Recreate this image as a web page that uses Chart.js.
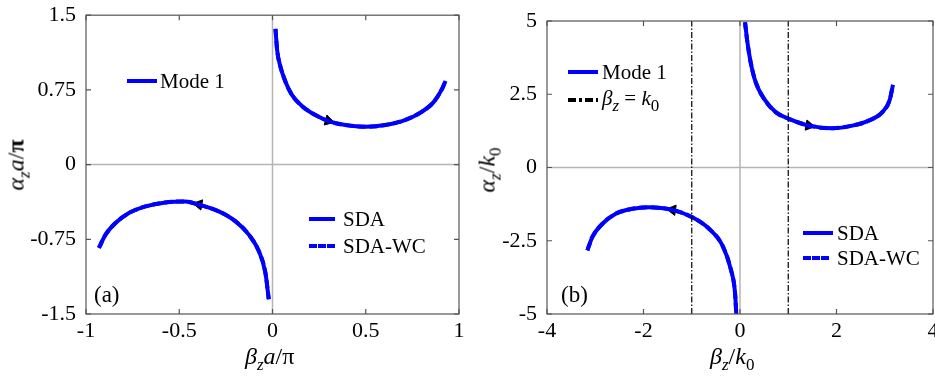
<!DOCTYPE html>
<html>
<head>
<meta charset="utf-8">
<script src="https://cdn.jsdelivr.net/npm/chart.js@4.4.1/dist/chart.umd.min.js"></script>
<style>
  html, body { margin: 0; padding: 0; background: #fff; overflow: hidden; }
  #wrap { position: relative; width: 935px; height: 379px; overflow: hidden; font-family: "Liberation Serif", "Times New Roman", serif; color: #000; }
  canvas { position: absolute; top: 0; }
  .lbl { position: absolute; font-size: 21px; white-space: nowrap; line-height: 1; }
  .ttl { position: absolute; font-size: 24px; white-space: nowrap; line-height: 1; }
  .ttl i { font-style: italic; }
  .ttl sub { font-size: 17px; font-style: italic; vertical-align: -6px; line-height: 0; }
  .lbl sub { font-size: 17px; font-style: italic; vertical-align: -6px; line-height: 0; }
  .key { position: absolute; height: 0; }
  .dashdot { position: absolute; height: 4px; background: repeating-linear-gradient(90deg, #000 0 8px, transparent 8px 11px, #000 11px 14px, transparent 14px 17px); }
</style>
</head>
<body>
<div id="wrap">
  <canvas id="chartA" width="470" height="379" style="left:0"></canvas>
  <canvas id="chartB" width="480" height="379" style="left:470px"></canvas>

  <!-- panel (a) legend + labels -->
  <div class="key" style="left:127px;top:79px;width:30px;border-top:4px solid #0000ff"></div>
  <div class="lbl" style="left:160px;top:71px">Mode 1</div>
  <div class="key" style="left:309px;top:217px;width:26px;border-top:4px solid #0000ff"></div>
  <div class="lbl" style="left:343px;top:209px">SDA</div>
  <div class="key" style="left:309px;top:244px;width:26px;border-top:4px dashed #0000ff"></div>
  <div class="lbl" style="left:343px;top:236px">SDA-WC</div>
  <div class="lbl" style="left:94px;top:283px;font-size:23px">(a)</div>
  <div class="ttl" style="left:245px;top:344px"><i>β</i><sub>z</sub><i>a</i>/π</div>
  <div class="ttl" style="left:-10px;top:153px;transform:rotate(-90deg)"><i>α</i><sub>z</sub><i>a</i>/<b>π</b></div>

  <!-- panel (b) legend + labels -->
  <div class="key" style="left:568px;top:70px;width:30px;border-top:4px solid #0000ff"></div>
  <div class="lbl" style="left:602px;top:62px">Mode 1</div>
  <div class="dashdot" style="left:568px;top:98px;width:30px"></div>
  <div class="lbl" style="left:602px;top:88px"><i>β</i><sub>z</sub> = <i>k</i><sub style="font-style:normal">0</sub></div>
  <div class="key" style="left:803px;top:231px;width:30px;border-top:4px solid #0000ff"></div>
  <div class="lbl" style="left:837px;top:223px">SDA</div>
  <div class="key" style="left:803px;top:256px;width:26px;border-top:4px dashed #0000ff"></div>
  <div class="lbl" style="left:837px;top:248px">SDA-WC</div>
  <div class="lbl" style="left:561px;top:283px;font-size:23px">(b)</div>
  <div class="ttl" style="left:710px;top:344px"><i>β</i><sub>z</sub>/<i>k</i><sub style="font-style:normal">0</sub></div>
  <div class="ttl" style="left:464px;top:158px;transform:rotate(-90deg)"><i>α</i><sub>z</sub>/<i>k</i><sub style="font-style:normal">0</sub></div>
</div>

<script>
// panel (a): beta_z a/pi vs alpha_z a/pi
const upperBetaA  = [0.016, 0.025, 0.043, 0.07, 0.105, 0.159, 0.23, 0.30, 0.39, 0.50, 0.605, 0.71, 0.80, 0.865, 0.91, 0.928];
const upperAlphaA = [1.363, 1.147, 0.98, 0.83, 0.697, 0.587, 0.497, 0.437, 0.397, 0.38, 0.397, 0.447, 0.53, 0.63, 0.763, 0.84];
const lowerBetaA  = [-0.931, -0.895, -0.842, -0.77, -0.681, -0.574, -0.466, -0.395, -0.288, -0.198, -0.127, -0.073, -0.038, -0.02];
const lowerAlphaA = [-0.837, -0.703, -0.587, -0.487, -0.42, -0.38, -0.37, -0.403, -0.47, -0.57, -0.703, -0.87, -1.087, -1.353];
const arrowsA = [
  { x: 0.30, y: 0.44, rot: 105 },
  { x: -0.395, y: -0.40, rot: -80 },
];
const xTicksA = [-1, -0.5, 0, 0.5, 1];
const yTicksA = [-1.5, -0.75, 0, 0.75, 1.5];

// panel (b): beta_z/k0 vs alpha_z/k0
const upperBetaB  = [0.104, 0.153, 0.22, 0.325, 0.50, 0.74, 1.015, 1.43, 1.915, 2.33, 2.67, 2.95, 3.10, 3.17];
const upperAlphaB = [4.96, 4.28, 3.6, 2.91, 2.34, 1.89, 1.66, 1.43, 1.34, 1.43, 1.60, 1.89, 2.29, 2.82];
const lowerBetaB  = [-3.163, -3.06, -2.85, -2.576, -2.23, -1.886, -1.40, -0.987, -0.642, -0.365, -0.193, -0.104, -0.075];
const lowerAlphaB = [-2.83, -2.37, -1.92, -1.58, -1.41, -1.355, -1.445, -1.70, -2.09, -2.66, -3.46, -4.26, -5.05];
const arrowsB = [
  { x: 1.43, y: 1.43, rot: 100 },
  { x: -1.40, y: -1.445, rot: -82 },
];
const lightLines = [-1, 1];
const xTicksB = [-4, -2, 0, 2, 4];
const yTicksB = [-5, -2.5, 0, 2.5, 5];

const blue = '#0000ff';
const tickFont = { family: '"Liberation Serif", "Times New Roman", serif', size: 22 };

const zip = (xs, ys) => xs.map((x, i) => ({ x, y: ys[i] }));

// zero lines under the data, box + inward ticks over it
const frame = {
  id: 'frame',
  beforeDatasetsDraw(chart) {
    const { ctx, chartArea: a, scales: { x, y } } = chart;
    ctx.save();
    ctx.strokeStyle = '#b4b4b4';
    ctx.lineWidth = 1.5;
    ctx.beginPath();
    const x0 = x.getPixelForValue(0), y0 = y.getPixelForValue(0);
    ctx.moveTo(x0, a.top); ctx.lineTo(x0, a.bottom);
    ctx.moveTo(a.left, y0); ctx.lineTo(a.right, y0);
    ctx.stroke();
    ctx.restore();
  },
  afterDatasetsDraw(chart) {
    const { ctx, chartArea: a, scales: { x, y } } = chart;
    ctx.save();
    ctx.strokeStyle = '#555';
    ctx.lineWidth = 1.2;
    ctx.strokeRect(a.left, a.top, a.right - a.left, a.bottom - a.top);
    ctx.beginPath();
    x.ticks.forEach(t => {
      const px = x.getPixelForValue(t.value);
      ctx.moveTo(px, a.bottom); ctx.lineTo(px, a.bottom - 5);
      ctx.moveTo(px, a.top); ctx.lineTo(px, a.top + 5);
    });
    y.ticks.forEach(t => {
      const py = y.getPixelForValue(t.value);
      ctx.moveTo(a.left, py); ctx.lineTo(a.left + 5, py);
      ctx.moveTo(a.right, py); ctx.lineTo(a.right - 5, py);
    });
    ctx.stroke();
    ctx.restore();
  },
};

const curve = (data, dashed) => ({
  data,
  showLine: true,
  borderColor: blue,
  borderWidth: 4,
  borderDash: dashed ? [8, 4] : [],
  cubicInterpolationMode: 'monotone',
  pointRadius: 0,
  fill: false,
});

const arrowSet = (arr) => ({
  data: arr.map(a => ({ x: a.x, y: a.y })),
  showLine: false,
  pointStyle: 'triangle',
  pointRadius: 6,
  rotation: arr.map(a => a.rot),
  backgroundColor: '#000',
  borderColor: '#000',
  borderWidth: 1,
});

const axes = (xr, yr, xt, yt, yWidth) => ({
  x: {
    type: 'linear', min: xr[0], max: xr[1],
    afterBuildTicks: s => { s.ticks = xt.map(v => ({ value: v })); },
    afterFit: s => { s.height = 65; },
    grid: { display: false }, border: { display: false },
    ticks: { font: tickFont, color: '#000', padding: -4, maxRotation: 0, callback: v => String(v) },
  },
  y: {
    type: 'linear', min: yr[0], max: yr[1],
    afterBuildTicks: s => { s.ticks = yt.map(v => ({ value: v })); },
    afterFit: s => { s.width = yWidth; },
    grid: { display: false }, border: { display: false },
    ticks: { font: tickFont, color: '#000', padding: 2, callback: v => String(v) },
  },
});

const baseOptions = {
  responsive: false,
  animation: false,
  plugins: { legend: { display: false }, tooltip: { enabled: false } },
};

new Chart(document.getElementById('chartA').getContext('2d'), {
  type: 'scatter',
  data: {
    datasets: [
      curve(zip(upperBetaA, upperAlphaA), false),
      curve(zip(lowerBetaA, lowerAlphaA), false),
      curve(zip(upperBetaA, upperAlphaA), true),
      curve(zip(lowerBetaA, lowerAlphaA), true),
      arrowSet(arrowsA),
    ],
  },
  options: {
    ...baseOptions,
    layout: { padding: { left: 0, right: 11, top: 13, bottom: 0 } },
    scales: axes([-1, 1], [-1.5, 1.5], xTicksA, yTicksA, 86),
  },
  plugins: [frame],
});

new Chart(document.getElementById('chartB').getContext('2d'), {
  type: 'scatter',
  data: {
    datasets: [
      ...lightLines.map(v => ({
        data: [{ x: v, y: -5 }, { x: v, y: 5 }],
        showLine: true,
        borderColor: '#000',
        borderWidth: 1.2,
        borderDash: [6, 2, 1.5, 2],
        pointRadius: 0,
      })),
      curve(zip(upperBetaB, upperAlphaB), false),
      curve(zip(lowerBetaB, lowerAlphaB), false),
      curve(zip(upperBetaB, upperAlphaB), true),
      curve(zip(lowerBetaB, lowerAlphaB), true),
      arrowSet(arrowsB),
    ],
  },
  options: {
    ...baseOptions,
    layout: { padding: { left: 0, right: 17, top: 21, bottom: 0 } },
    scales: axes([-4, 4], [-5, 5], xTicksB, yTicksB, 77),
  },
  plugins: [frame],
});
</script>
</body>
</html>
